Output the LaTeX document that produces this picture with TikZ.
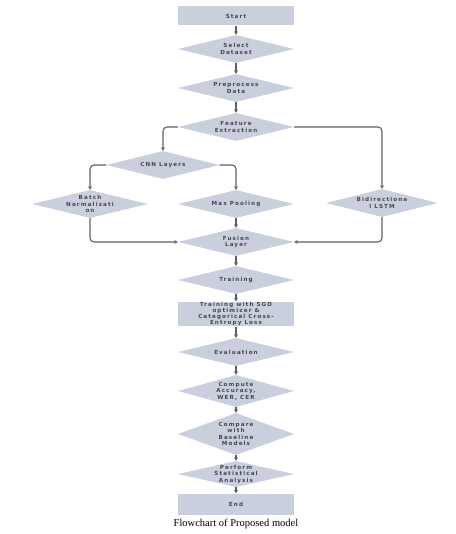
\documentclass[tikz,border=0pt]{standalone}
\usepackage{fontspec}
\usepackage{xcolor}
\usepackage{tikz}
\usetikzlibrary{shapes.geometric,arrows.meta,positioning}
\setmainfont{Liberation Serif}
\newfontfamily\flowfont[LetterSpace=20]{DejaVu Sans}
\definecolor{boxfill}{RGB}{201,207,220}
\definecolor{boxtext}{RGB}{70,72,82}
\definecolor{linegray}{RGB}{95,95,100}

\begin{document}
\begin{tikzpicture}[
  x=1pt, y=-1pt,
  flowbox/.style={rectangle, fill=boxfill, minimum width=116pt, minimum height=19pt,
                  inner sep=1pt, text=boxtext, align=center,
                  font=\flowfont\bfseries\fontsize{5.6}{5.8}\selectfont},
  flowdiamond/.style={diamond, fill=boxfill, aspect=4, inner sep=-5pt,
                  minimum width=116pt, minimum height=28pt, text=boxtext, align=center,
                  font=\flowfont\bfseries\fontsize{5.6}{6.5}\selectfont},
  arrow/.style={-{Stealth[length=3.5pt,width=4pt]}, line width=1.1pt, draw=linegray},
  elbow/.style={arrow, rounded corners=4pt}
]
\useasboundingbox (0,0) rectangle (455,534);

% main column
\node[flowbox] (start) at (236,16) {Start};
\node[flowdiamond] (select) at (236,49) {Select\\Dataset};
\node[flowdiamond] (prep) at (236,88) {Preprocess\\Data};
\node[flowdiamond] (feat) at (236,127) {Feature\\Extraction};

% branches
\node[flowdiamond, minimum width=113pt] (cnn) at (163,165) {CNN Layers};
\node[flowdiamond] (batch) at (90,204) {Batch\\Normalizati\\on};
\node[flowdiamond] (pool) at (236,204) {Max Pooling};
\node[flowdiamond, minimum width=112pt] (lstm) at (382,203) {Bidirectiona\\l LSTM};
\node[flowdiamond] (fusion) at (236,242) {Fusion\\Layer};

\node[flowdiamond] (train) at (236,280) {Training};
\node[flowbox, minimum height=24pt] (sgd) at (236,314)
  {Training with SGD\\optimizer \&\\Categorical Cross-\\Entropy Loss};
\node[flowdiamond] (eval) at (236,352) {Evaluation};
\node[flowdiamond, minimum height=32pt] (metrics) at (236,391) {Compute\\Accuracy,\\WER, CER};
\node[flowdiamond, minimum height=42pt] (compare) at (236,434) {Compare\\with\\Baseline\\Models};
\node[flowdiamond, minimum height=26pt] (stats) at (236,474) {Perform\\Statistical\\Analysis};
\node[flowbox, minimum height=21pt] (end) at (236,504) {End};

\node[font=\fontsize{10.5}{12}\selectfont] (caption) at (236,524) {Flowchart of Proposed model};

\draw[arrow] (start) -- (select);
\draw[arrow] (select) -- (prep);
\draw[arrow] (prep) -- (feat);
\draw[elbow] (feat.west) -| (cnn.north);
\draw[elbow] (feat.east) -| (lstm.north);
\draw[elbow] (cnn.west) -| (batch.north);
\draw[elbow] (cnn.east) -| (pool.north);
\draw[arrow] (pool) -- (fusion);
\draw[elbow] (batch.south) |- (fusion.west);
\draw[elbow] (lstm.south) |- (fusion.east);
\draw[arrow] (fusion) -- (train);
\draw[arrow] (train) -- (sgd);
\draw[arrow] (sgd) -- (eval);
\draw[arrow] (eval) -- (metrics);
\draw[arrow] (metrics) -- (compare);
\draw[arrow] (compare) -- (stats);
\draw[arrow] (stats) -- (end);

\end{tikzpicture}
\end{document}
